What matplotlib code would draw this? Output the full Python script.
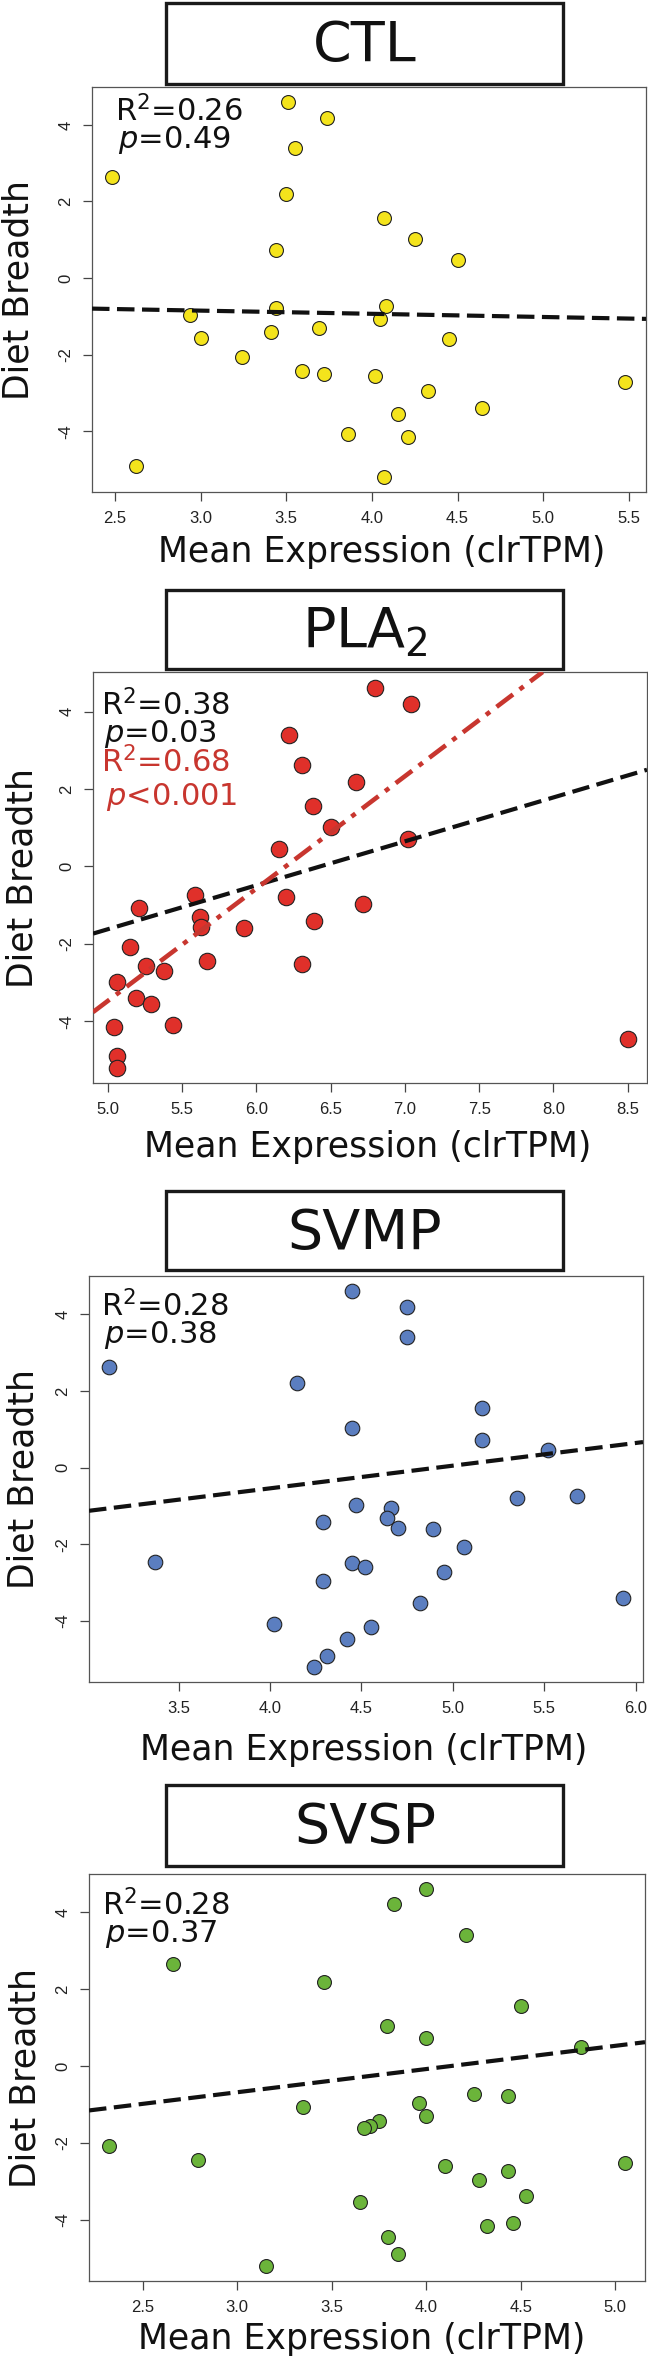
import matplotlib
matplotlib.use("Agg")
import matplotlib.pyplot as plt
from matplotlib.patches import Rectangle

plt.rcParams["font.family"] = "DejaVu Sans"
plt.rcParams["axes.unicode_minus"] = False

################## DATEN ##################
titles = ["CTL", "PLA$_2$", "SVMP", "SVSP"]
point_colors = ["#f4e41c", "#e0302a", "#5b7ec0", "#6bb43a"]

ctl_x = [3.51, 3.74, 3.55, 2.48, 3.50, 4.07, 4.25, 3.44, 4.50, 3.44, 4.08, 2.94, 4.05, 3.69, 3.00,
         3.41, 4.45, 3.24, 3.59, 3.72, 4.02, 4.33, 5.48, 4.64, 4.15, 3.86, 4.21, 2.62, 4.07]
ctl_y = [4.61, 4.19, 3.40, 2.64, 2.20, 1.58, 1.03, 0.73, 0.47, -0.78, -0.73, -0.96, -1.07, -1.31, -1.58,
         -1.42, -1.60, -2.06, -2.44, -2.50, -2.57, -2.96, -2.72, -3.39, -3.55, -4.08, -4.16, -4.90, -5.19]

pla2_x = [6.80, 7.04, 6.22, 6.31, 6.67, 6.38, 6.50, 7.02, 6.15, 5.59, 6.20, 6.72, 5.21, 5.62, 6.39,
          5.63, 5.92, 5.15, 5.67, 6.31, 5.26, 5.38, 5.06, 5.19, 5.29, 5.44, 5.04, 8.50, 5.06, 5.06]
pla2_y = [4.61, 4.20, 3.40, 2.63, 2.19, 1.57, 1.03, 0.72, 0.46, -0.73, -0.79, -0.96, -1.07, -1.30, -1.42,
          -1.57, -1.60, -2.07, -2.45, -2.51, -2.58, -2.71, -2.97, -3.40, -3.54, -4.08, -4.15, -4.45, -4.89, -5.20]

svmp_x = [4.45, 4.75, 4.75, 3.12, 4.15, 5.16, 4.45, 5.16, 5.52, 5.35, 5.68, 4.47, 4.66, 4.64, 4.29,
          4.70, 4.89, 5.06, 3.37, 4.45, 4.52, 4.95, 4.29, 4.82, 5.93, 4.02, 4.55, 4.42, 4.31, 4.24]
svmp_y = [4.61, 4.19, 3.40, 2.63, 2.20, 1.56, 1.02, 0.72, 0.47, -0.79, -0.75, -0.97, -1.07, -1.33, -1.43,
          -1.58, -1.61, -2.08, -2.46, -2.50, -2.59, -2.73, -2.97, -3.55, -3.41, -4.09, -4.17, -4.47, -4.92, -5.21]

svsp_x = [4.00, 3.83, 4.21, 2.66, 3.46, 4.50, 3.79, 4.00, 4.82, 4.25, 4.43, 3.96, 3.35, 4.00, 3.75,
          3.70, 3.67, 2.32, 2.79, 5.05, 4.10, 4.43, 4.28, 3.65, 4.53, 4.46, 4.32, 3.80, 3.85, 3.15]
svsp_y = [4.61, 4.20, 3.40, 2.64, 2.19, 1.57, 1.03, 0.72, 0.48, -0.74, -0.79, -0.96, -1.06, -1.30, -1.44,
          -1.57, -1.61, -2.07, -2.45, -2.51, -2.59, -2.73, -2.96, -3.54, -3.39, -4.09, -4.17, -4.45, -4.90, -5.21]

xs = [ctl_x, pla2_x, svmp_x, svsp_x]
ys = [ctl_y, pla2_y, svmp_y, svsp_y]

fit_intercept = [-0.603, -7.29, -2.912, -2.494]
fit_slope = [-0.083, 1.134, 0.592, 0.6035]
pla2_red_intercept = -17.97
pla2_red_slope = 2.90

stats_r2 = ["0.26", "0.38", "0.28", "0.28"]
stats_p = ["=0.49", "=0.03", "=0.38", "=0.37"]
pla2_red_r2 = "0.68"
pla2_red_p = "<0.001"

x_ticks = [[2.5, 3.0, 3.5, 4.0, 4.5, 5.0, 5.5],
           [5.0, 5.5, 6.0, 6.5, 7.0, 7.5, 8.0, 8.5],
           [3.5, 4.0, 4.5, 5.0, 5.5, 6.0],
           [2.5, 3.0, 3.5, 4.0, 4.5, 5.0]]
y_ticks = [-4, -2, 0, 2, 4]

################## LAYOUT (Pixel) ##################
W, H = 648, 2360
xlims = [(2.366, 5.60), (4.90, 8.63), (3.01, 6.04), (2.216, 5.157)]
ylims = [(-5.59, 4.99), (-5.59, 5.02), (-5.60, 5.00), (-5.59, 4.99)]
ax_boxes = [(92, 87, 646, 492), (93, 672, 647, 1083), (89, 1276, 643, 1682), (89, 1874, 645, 2281)]
title_boxes = [(166.5, 3.5, 563.5, 83.5), (166.5, 589.5, 563.5, 668.5),
               (166.5, 1190.5, 563.5, 1269.5), (166.5, 1784.5, 563.5, 1865.5)]
marker_sizes = [100, 140, 110, 100]
text_left = [115, 101, 101, 102]
r2_baseline = [121, 715, 1316, 1915]
xlabel_cx = [382, 368, 364, 362]
xlabel_base = [562, 1157, 1760, 2349]
ylabel_cx = [19, 23, 24, 26]


def fx(x):
    return x / W


def fy(y):
    return 1 - y / H


fig = plt.figure(figsize=(W / 100, H / 100), dpi=100)

for i in range(4):
    l, t, r, b = ax_boxes[i]
    ax = fig.add_axes([fx(l), fy(b), (r - l) / W, (b - t) / H])

    ax.scatter(xs[i], ys[i], s=marker_sizes[i], c=point_colors[i],
               edgecolors="#222222", linewidths=0.8, zorder=3)

    # schwarze Regressionsgerade
    ax.axline((0, fit_intercept[i]), slope=fit_slope[i], color="#111111",
              lw=3.0, linestyle=(0, (4.2, 1.8)), zorder=4)
    if i == 1:
        # rote Gerade (Strich-Punkt)
        ax.axline((0, pla2_red_intercept), slope=pla2_red_slope, color="#c8362f",
                  lw=3.3, linestyle=(0, (4.5, 1.8, 1.1, 1.8)), zorder=4)

    ax.set_xlim(*xlims[i])
    ax.set_ylim(*ylims[i])
    ax.set_xticks(x_ticks[i])
    ax.set_xticklabels([f"{v:.1f}" for v in x_ticks[i]])
    ax.set_yticks(y_ticks)
    ax.set_yticklabels([str(v) for v in y_ticks], rotation=90, va="center")
    for lab in ax.get_xticklabels() + ax.get_yticklabels():
        lab.set_fontfamily("Liberation Sans")
        lab.set_fontsize(12)
        lab.set_color("#222222")
    ax.tick_params(direction="out", length=6.5, width=0.9, color="#444444", pad=7)
    for sp in ax.spines.values():
        sp.set_color("#555555")
        sp.set_linewidth(0.9)

    # Statistik-Text
    x0 = fx(text_left[i])
    fig.text(x0, fy(r2_baseline[i]), "R$^2$=" + stats_r2[i], fontsize=22,
             va="baseline", ha="left", color="#111111")
    fig.text(x0 + fx(3), fy(r2_baseline[i] + 27), "$p$" + stats_p[i], fontsize=22,
             va="baseline", ha="left", color="#111111")
    if i == 1:
        fig.text(x0, fy(r2_baseline[i] + 57), "R$^2$=" + pla2_red_r2, fontsize=22,
                 va="baseline", ha="left", color="#c8362f")
        fig.text(x0 + fx(5), fy(r2_baseline[i] + 90), "$p$" + pla2_red_p, fontsize=22,
                 va="baseline", ha="left", color="#c8362f")

    # Titel-Kasten
    bl, bt, br, bb = title_boxes[i]
    fig.add_artist(Rectangle((fx(bl), fy(bb)), (br - bl) / W, (bb - bt) / H,
                             transform=fig.transFigure, fill=False,
                             lw=2.4, edgecolor="#1a1a1a"))
    fig.text(fx((bl + br) / 2), fy(bt + 58), titles[i], fontsize=40,
             ha="center", va="baseline", color="#111111")

    # Achsenbeschriftung
    fig.text(fx(xlabel_cx[i]), fy(xlabel_base[i]), "Mean Expression (clrTPM)",
             fontsize=25, ha="center", va="baseline", color="#111111")
    fig.text(fx(ylabel_cx[i]), fy((t + b) / 2), "Diet Breadth", fontsize=25,
             rotation=90, ha="center", va="center", color="#111111")

fig.savefig("out.png", dpi=100)
